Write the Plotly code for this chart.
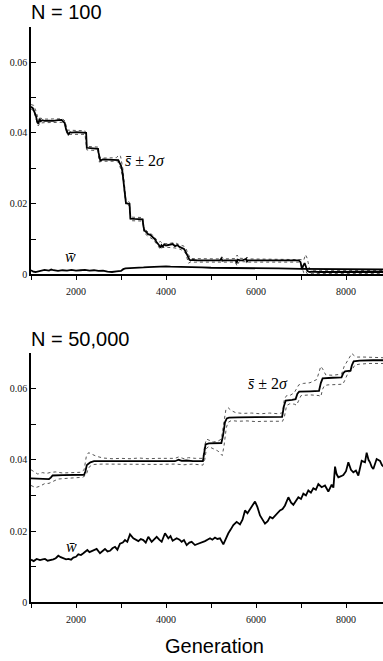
import plotly.graph_objects as go

# ---------------- N = 100 panel ----------------
top_s_gen = [1000, 1040, 1080, 1110, 1140, 1165, 1190, 1215, 1250, 1300, 1400, 1500, 1600, 1680, 1720,
             1750, 1780, 1800, 1830, 1870, 1900, 2000, 2100, 2200, 2225, 2240, 2300, 2400, 2490, 2500,
             2520, 2540, 2600, 2700, 2800, 2900, 2940, 2970, 3000, 3030, 3050, 3070, 3090, 3110, 3150,
             3190, 3200, 3210, 3300, 3400, 3480, 3500, 3520, 3560, 3600, 3650, 3700, 3750, 3790, 3820,
             3850, 3880, 3900, 3930, 3960, 4000, 4050, 4100, 4150, 4200, 4250, 4300, 4350, 4400, 4430,
             4460, 4490, 4520, 4540, 4600, 4700, 4800, 4900, 5000, 5100, 5200, 5230, 5250, 5300, 5400,
             5500, 5550, 5570, 5590, 5650, 5700, 5780, 5800, 5820, 5900, 6000, 6200, 6400, 6600, 6800,
             6950, 6990, 7020, 7050, 7080, 7110, 7140, 7170, 7200, 7240, 7300, 7400, 7600, 7800, 8000,
             8200, 8400, 8600, 8850]
top_s_val = [0.0474, 0.0470, 0.0458, 0.0448, 0.0430, 0.0426, 0.0440, 0.0433, 0.0436, 0.0434, 0.0435, 0.0434, 0.0436, 0.0437, 0.0432,
             0.0428, 0.0410, 0.0402, 0.0396, 0.0402, 0.0401, 0.0402, 0.0402, 0.0401, 0.0400, 0.0358, 0.0357, 0.0356, 0.0355, 0.0345,
             0.0326, 0.0322, 0.0325, 0.0325, 0.0324, 0.0325, 0.0323, 0.0315, 0.0308, 0.0292, 0.0270, 0.0250, 0.0222, 0.0202, 0.0200,
             0.0199, 0.0175, 0.0158, 0.0157, 0.0157, 0.0156, 0.0135, 0.0124, 0.0120, 0.0114, 0.0112, 0.0106, 0.0100, 0.0092, 0.0085,
             0.0082, 0.0076, 0.0083, 0.0079, 0.0085, 0.0082, 0.0083, 0.0084, 0.0086, 0.0080, 0.0083, 0.0078, 0.0074, 0.0072, 0.0066,
             0.0058, 0.0048, 0.0042, 0.0040, 0.0041, 0.0040, 0.0040, 0.0041, 0.0040, 0.0040, 0.0040, 0.0045, 0.0039, 0.0040, 0.0040,
             0.0040, 0.0040, 0.0032, 0.0042, 0.0040, 0.0040, 0.0044, 0.0037, 0.0040, 0.0040, 0.0040, 0.0040, 0.0040, 0.0040, 0.0040,
             0.0040, 0.0035, 0.0015, 0.0025, 0.0032, 0.0022, 0.0010, 0.0008, 0.0007, 0.0008, 0.0007, 0.0007, 0.0007, 0.0007, 0.0007,
             0.0007, 0.0007, 0.0007, 0.0007]

top_band_gen = [1000, 1060, 1110, 1160, 1200, 1300, 1700, 1760, 1800, 2200, 2240, 2490, 2510, 2600, 2900, 2950,
                2990, 3040, 3080, 3110, 3190, 3210, 3480, 3510, 3600, 3700, 3800, 3850, 3880, 3920, 4000, 4200,
                4300, 4400, 4440, 4500, 4540, 5200, 5240, 5280, 5540, 5580, 5620, 5760, 5800, 5840, 6950, 7000,
                7060, 7100, 7140, 7190, 7250, 8850]
top_hi_val = [0.0480, 0.0478, 0.0462, 0.0440, 0.0442, 0.0439, 0.0440, 0.0433, 0.0408, 0.0406, 0.0362, 0.0360, 0.0332, 0.0329, 0.0330, 0.0338,
              0.0334, 0.0300, 0.0250, 0.0208, 0.0204, 0.0162, 0.0161, 0.0130, 0.0120, 0.0112, 0.0097, 0.0092, 0.0093, 0.0088, 0.0087, 0.0090,
              0.0084, 0.0080, 0.0074, 0.0056, 0.0045, 0.0044, 0.0050, 0.0044, 0.0045, 0.0055, 0.0046, 0.0045, 0.0049, 0.0044, 0.0044, 0.0042,
              0.0040, 0.0056, 0.0045, 0.0015, 0.0012, 0.0011]
top_lo_val = [0.0468, 0.0462, 0.0440, 0.0420, 0.0428, 0.0429, 0.0430, 0.0420, 0.0396, 0.0396, 0.0352, 0.0350, 0.0318, 0.0320, 0.0320, 0.0316,
              0.0300, 0.0275, 0.0228, 0.0196, 0.0194, 0.0152, 0.0151, 0.0118, 0.0108, 0.0100, 0.0085, 0.0074, 0.0070, 0.0076, 0.0077, 0.0075,
              0.0072, 0.0066, 0.0058, 0.0032, 0.0035, 0.0035, 0.0034, 0.0035, 0.0035, 0.0024, 0.0036, 0.0036, 0.0033, 0.0035, 0.0035, 0.0028,
              0.0005, 0.0010, 0.0002, 0.0001, 0.0003, 0.0003]

top_w_gen = [1000, 1050, 1100, 1150, 1200, 1300, 1400, 1450, 1500, 1600, 1700, 1800, 1900, 2000, 2100, 2200, 2300,
             2400, 2500, 2600, 2700, 2800, 2900, 3000, 3050, 3100, 3200, 3300, 3400, 3500, 3600, 3700, 3800, 3900,
             4000, 4100, 4200, 4400, 4600, 4800, 5000, 5500, 6000, 6500, 7000, 7500, 8000, 8500, 8850]
top_w_val = [0.0012, 0.0008, 0.0007, 0.0009, 0.0010, 0.0013, 0.0011, 0.0014, 0.0012, 0.0010, 0.0012, 0.0011, 0.0013, 0.0011, 0.0012, 0.0013, 0.0011,
             0.0012, 0.0010, 0.0011, 0.0008, 0.0007, 0.0009, 0.0010, 0.0015, 0.0017, 0.0018, 0.0018, 0.0019, 0.0020, 0.0021, 0.0022, 0.0022, 0.0023,
             0.0023, 0.0022, 0.0022, 0.0021, 0.0020, 0.0020, 0.0019, 0.0019, 0.0018, 0.0017, 0.0016, 0.0015, 0.0015, 0.0014, 0.0014]

# ---------------- N = 50,000 panel ----------------
bot_s_gen = [1000, 1200, 1400, 1440, 1480, 1700, 2000, 2180, 2210, 2240, 2270, 2320, 2400, 2600, 3000, 3500, 4000,
             4200, 4280, 4350, 4450, 4600, 4820, 4850, 4880, 4950, 5100, 5230, 5270, 5310, 5350, 5400, 5600, 6000,
             6400, 6580, 6620, 6660, 6800, 6880, 6920, 6960, 7200, 7400, 7440, 7480, 7700, 7900, 7940, 7980, 8100,
             8130, 8170, 8300, 8600, 8850]
bot_s_val = [0.0348, 0.0347, 0.0346, 0.0350, 0.0356, 0.0357, 0.0357, 0.0358, 0.0368, 0.0385, 0.0388, 0.0393, 0.0396, 0.0396, 0.0396, 0.0396, 0.0396,
             0.0396, 0.0400, 0.0397, 0.0398, 0.0396, 0.0396, 0.0420, 0.0443, 0.0446, 0.0446, 0.0447, 0.0470, 0.0505, 0.0516, 0.0518, 0.0519, 0.0519,
             0.0519, 0.0520, 0.0550, 0.0566, 0.0568, 0.0570, 0.0585, 0.0591, 0.0592, 0.0593, 0.0615, 0.0628, 0.0630, 0.0631, 0.0643, 0.0648, 0.0650,
             0.0665, 0.0676, 0.0678, 0.0679, 0.0679]

bot_hi_gen = [1000, 1060, 1150, 1250, 1350, 1450, 1550, 1700, 1900, 2100, 2180, 2230, 2280, 2350, 2450, 2600, 2800,
              3000, 3200, 3400, 3600, 3800, 4000, 4200, 4280, 4400, 4500, 4650, 4820, 4860, 4900, 4960, 5050, 5150,
              5230, 5280, 5330, 5380, 5450, 5550, 5700, 5900, 6100, 6300, 6500, 6590, 6630, 6680, 6750, 6850, 6900,
              6950, 7050, 7200, 7350, 7400, 7440, 7480, 7550, 7700, 7900, 7960, 8020, 8080, 8130, 8180, 8250, 8400,
              8600, 8850]
bot_hi_val = [0.0372, 0.0368, 0.0360, 0.0364, 0.0362, 0.0365, 0.0366, 0.0363, 0.0364, 0.0365, 0.0372, 0.0410, 0.0420, 0.0416, 0.0410, 0.0405, 0.0403,
              0.0404, 0.0403, 0.0405, 0.0403, 0.0404, 0.0405, 0.0404, 0.0408, 0.0403, 0.0406, 0.0404, 0.0404, 0.0440, 0.0458, 0.0455, 0.0450, 0.0452,
              0.0458, 0.0500, 0.0540, 0.0546, 0.0538, 0.0532, 0.0530, 0.0531, 0.0529, 0.0531, 0.0529, 0.0532, 0.0570, 0.0580, 0.0580, 0.0588, 0.0600,
              0.0610, 0.0614, 0.0616, 0.0625, 0.0650, 0.0662, 0.0655, 0.0638, 0.0637, 0.0640, 0.0662, 0.0675, 0.0690, 0.0698, 0.0692, 0.0688, 0.0688,
              0.0687, 0.0686]

bot_lo_gen = [1000, 1100, 1200, 1300, 1400, 1500, 1600, 1800, 2000, 2150, 2230, 2270, 2320, 2400, 2600, 3000, 3400,
              3800, 4200, 4400, 4600, 4820, 4860, 4900, 4950, 5050, 5150, 5250, 5290, 5340, 5380, 5450, 5600, 5800,
              6000, 6200, 6400, 6590, 6630, 6680, 6750, 6850, 6900, 6960, 7000, 7200, 7400, 7440, 7480, 7520, 7600,
              7800, 7930, 7970, 8050, 8120, 8160, 8200, 8300, 8500, 8850]
bot_lo_val = [0.0328, 0.0322, 0.0326, 0.0333, 0.0334, 0.0340, 0.0346, 0.0348, 0.0349, 0.0351, 0.0358, 0.0375, 0.0383, 0.0387, 0.0388, 0.0387, 0.0388,
              0.0387, 0.0388, 0.0386, 0.0388, 0.0385, 0.0400, 0.0432, 0.0437, 0.0432, 0.0425, 0.0412, 0.0440, 0.0490, 0.0505, 0.0510, 0.0508, 0.0509,
              0.0507, 0.0508, 0.0507, 0.0508, 0.0520, 0.0552, 0.0557, 0.0556, 0.0553, 0.0572, 0.0580, 0.0582, 0.0580, 0.0577, 0.0598, 0.0608, 0.0610,
              0.0611, 0.0612, 0.0622, 0.0645, 0.0650, 0.0660, 0.0666, 0.0668, 0.0670, 0.0670]

bot_w_gen = [1000, 1060, 1126, 1200, 1260, 1311, 1370, 1422, 1496, 1550, 1607, 1660, 1718, 1780, 1830, 1890, 1941,
             2000, 2052, 2110, 2163, 2252, 2300, 2348, 2400, 2459, 2533, 2590, 2644, 2700, 2756, 2810, 2867, 2920,
             2978, 3040, 3089, 3140, 3200, 3274, 3330, 3385, 3440, 3496, 3550, 3607, 3681, 3740, 3793, 3850, 3904,
             3978, 4052, 4100, 4148, 4237, 4300, 4348, 4400, 4459, 4520, 4570, 4644, 4700, 4756, 4810, 4867, 4920,
             4978, 5030, 5089, 5140, 5200, 5274, 5330, 5385, 5440, 5496, 5570, 5644, 5700, 5756, 5810, 5867, 5920,
             5978, 6030, 6089, 6140, 6200, 6260, 6311, 6370, 6422, 6480, 6533, 6590, 6644, 6719, 6780, 6830, 6890,
             6941, 7000, 7052, 7110, 7163, 7220, 7274, 7330, 7385, 7459, 7533, 7607, 7681, 7720, 7756, 7790, 7830,
             7890, 7941, 8000, 8052, 8110, 8163, 8220, 8274, 8348, 8422, 8459, 8500, 8533, 8570, 8607, 8681, 8756,
             8800, 8850]
bot_w_val = [0.0120, 0.0116, 0.0122, 0.0119, 0.0121, 0.0122, 0.0117, 0.0118, 0.0121, 0.0124, 0.0131, 0.0127, 0.0124, 0.0121, 0.0122, 0.0120, 0.0126,
             0.0128, 0.0135, 0.0133, 0.0138, 0.0147, 0.0141, 0.0144, 0.0146, 0.0150, 0.0138, 0.0145, 0.0150, 0.0143, 0.0145, 0.0152, 0.0156, 0.0148,
             0.0165, 0.0168, 0.0175, 0.0170, 0.0191, 0.0180, 0.0176, 0.0172, 0.0178, 0.0175, 0.0168, 0.0184, 0.0170, 0.0177, 0.0184, 0.0176, 0.0170,
             0.0194, 0.0180, 0.0186, 0.0173, 0.0180, 0.0176, 0.0170, 0.0175, 0.0161, 0.0168, 0.0170, 0.0161, 0.0164, 0.0166, 0.0170, 0.0172, 0.0176,
             0.0180, 0.0176, 0.0182, 0.0178, 0.0180, 0.0163, 0.0180, 0.0194, 0.0205, 0.0217, 0.0226, 0.0219, 0.0232, 0.0258, 0.0250, 0.0263, 0.0272,
             0.0283, 0.0268, 0.0244, 0.0232, 0.0221, 0.0228, 0.0240, 0.0236, 0.0243, 0.0250, 0.0258, 0.0262, 0.0272, 0.0295, 0.0280, 0.0274, 0.0285,
             0.0295, 0.0290, 0.0305, 0.0300, 0.0314, 0.0308, 0.0320, 0.0316, 0.0332, 0.0323, 0.0328, 0.0311, 0.0330, 0.0322, 0.0381, 0.0360, 0.0351,
             0.0354, 0.0357, 0.0368, 0.0393, 0.0372, 0.0365, 0.0370, 0.0356, 0.0397, 0.0393, 0.0420, 0.0400, 0.0393, 0.0380, 0.0374, 0.0402, 0.0397,
             0.0385, 0.0379]

x_ticks = [1000, 2000, 3000, 4000, 5000, 6000, 7000, 8000]
x_ticktext = ["", "2000", "", "4000", "", "6000", "", "8000"]
y_ticks = [0, 0.01, 0.02, 0.03, 0.04, 0.05, 0.06]
y_ticktext = ["0", "", "0.02", "", "0.04", "", "0.06"]
panel_titles = ["N = 100", "N = 50,000"]
x_title = "Generation"
s_label = "<i>s\u0304</i> \u00b1 2<i>\u03c3</i>"
w_label = "<i>w\u0304</i>"

W, H = 383, 661
X_RANGE = [1000, 8822]
Y_RANGE = [0, 0.07]
x_dom = [31 / W, 1.0]
top_dom = [1 - 277 / H, 1 - 27 / H]
bot_dom = [1 - 608 / H, 1 - 356 / H]

fig = go.Figure()

DOT = dict(color="#555555", width=1, dash="dot")
SOLID = dict(color="black", width=1.8)


def add_panel(xa, ya, band_hi, band_lo, s, w):
    fig.add_trace(go.Scatter(x=band_hi[0], y=band_hi[1], mode="lines", line=DOT, xaxis=xa, yaxis=ya, showlegend=False))
    fig.add_trace(go.Scatter(x=band_lo[0], y=band_lo[1], mode="lines", line=DOT, xaxis=xa, yaxis=ya, showlegend=False))
    fig.add_trace(go.Scatter(x=s[0], y=s[1], mode="lines", line=SOLID, xaxis=xa, yaxis=ya, showlegend=False))
    fig.add_trace(go.Scatter(x=w[0], y=w[1], mode="lines", line=SOLID, xaxis=xa, yaxis=ya, showlegend=False))


add_panel("x", "y", (top_band_gen, top_hi_val), (top_band_gen, top_lo_val), (top_s_gen, top_s_val), (top_w_gen, top_w_val))
add_panel("x2", "y2", (bot_hi_gen, bot_hi_val), (bot_lo_gen, bot_lo_val), (bot_s_gen, bot_s_val), (bot_w_gen, bot_w_val))

tickfont = dict(family="Liberation Serif, Times New Roman, serif", size=10, color="#111")


def xaxis(anchor):
    return dict(domain=x_dom, anchor=anchor, range=X_RANGE, tickmode="array", tickvals=x_ticks,
                ticktext=x_ticktext, ticks="outside", ticklen=4, tickwidth=1, tickcolor="black",
                showline=True, linewidth=1.5, linecolor="black", showgrid=False, zeroline=False,
                tickfont=tickfont, fixedrange=True, ticklabelstandoff=3)


def topaxis(over, anchor):
    return dict(domain=x_dom, anchor=anchor, overlaying=over, side="top", range=X_RANGE,
                tickmode="array", tickvals=x_ticks[1:], ticks="inside", ticklen=5, tickwidth=1,
                tickcolor="black", showticklabels=False, showline=True, linewidth=1.2,
                linecolor="black", showgrid=False, zeroline=False)


def yaxis(dom, anchor):
    return dict(domain=dom, anchor=anchor, range=Y_RANGE, tickmode="array", tickvals=y_ticks,
                ticktext=y_ticktext, ticks="inside", ticklen=5, tickwidth=1, tickcolor="black",
                showline=True, linewidth=1.5, linecolor="black", showgrid=False, zeroline=False,
                tickfont=tickfont, fixedrange=True)


title_font = dict(family="Liberation Sans, Arial, sans-serif", size=20, color="black")
lab_font = dict(family="Liberation Serif, Times New Roman, serif", size=16, color="black")

fig.update_layout(
    width=W, height=H, margin=dict(l=0, r=0, t=0, b=0),
    paper_bgcolor="white", plot_bgcolor="white", showlegend=False,
    xaxis=xaxis("y"), yaxis=yaxis(top_dom, "x"),
    xaxis2=xaxis("y2"), yaxis2=yaxis(bot_dom, "x2"),
    xaxis3=topaxis("x", "y"), xaxis4=topaxis("x2", "y2"),
    annotations=[
        dict(text=panel_titles[0], x=29 / W, y=1 - 12 / H, xref="paper", yref="paper",
             xanchor="left", yanchor="middle", showarrow=False, font=title_font),
        dict(text=panel_titles[1], x=29 / W, y=1 - 342 / H, xref="paper", yref="paper",
             xanchor="left", yanchor="middle", showarrow=False, font=title_font),
        dict(text=x_title, x=214 / W, y=1 - 652 / H, xref="paper", yref="paper",
             xanchor="center", yanchor="middle", showarrow=False, font=title_font),
        dict(text=s_label, x=3530, y=0.0321, xref="x", yref="y", showarrow=False, font=lab_font),
        dict(text=w_label, x=1870, y=0.0052, xref="x", yref="y", showarrow=False, font=lab_font),
        dict(text=s_label, x=6270, y=0.0614, xref="x2", yref="y2", showarrow=False, font=lab_font),
        dict(text=w_label, x=1890, y=0.0158, xref="x2", yref="y2", showarrow=False, font=lab_font),
    ],
)

fig.write_html("out.html", config={"displayModeBar": False},
               post_script="document.body.style.margin='0';document.body.style.overflow='hidden';")
